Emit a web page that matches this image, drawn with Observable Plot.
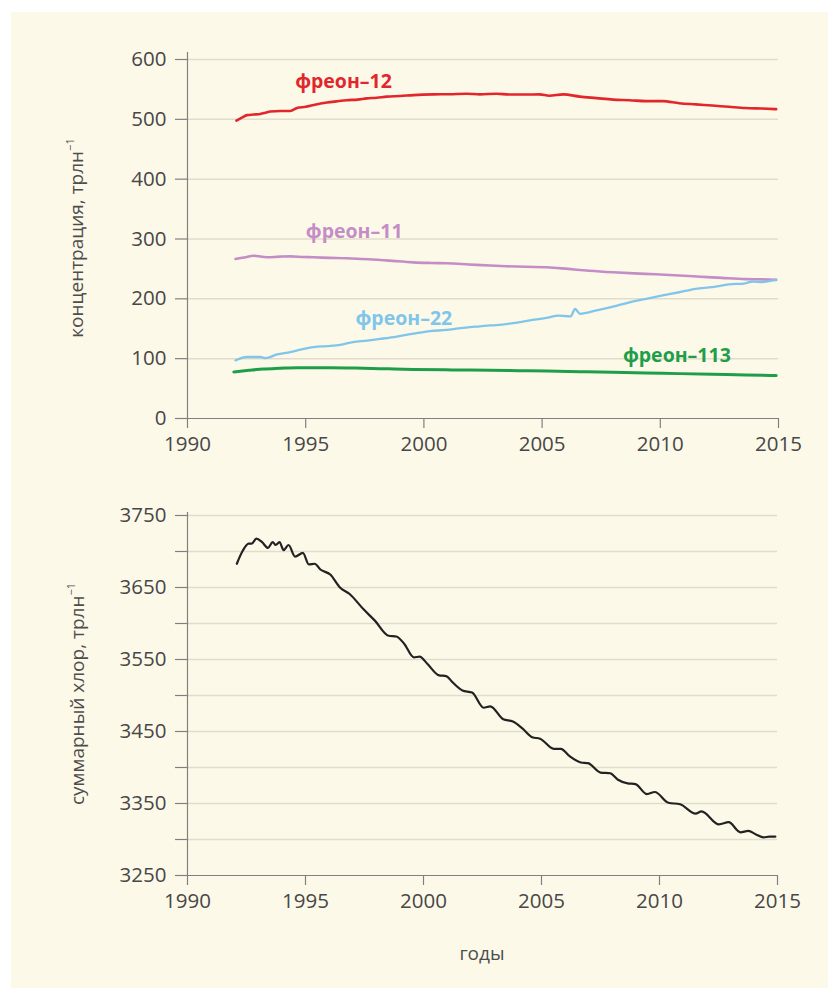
<!DOCTYPE html>
<html>
<head>
<meta charset="utf-8">
<script src="https://cdn.jsdelivr.net/npm/d3@7"></script>
<script src="https://cdn.jsdelivr.net/npm/@observablehq/plot@0.6"></script>
<style>
html,body{margin:0;padding:0;background:#fff;}
#page{position:relative;width:828px;height:988px;overflow:hidden;font-family:"Open Sans",sans-serif;}
#panel{position:absolute;left:11px;top:12px;right:0;bottom:0;background:#fdf9e9;}
#top,#bottom{position:absolute;left:0;}
#top{top:0;}
#bottom{top:460px;}
.ytitle{position:absolute;transform:translate(-50%,-50%) rotate(-90deg);white-space:nowrap;font-size:19px;color:#4d4d4d;}
.ytitle sup{font-size:11px;position:relative;top:-2px;}
.xtitle{position:absolute;transform:translate(-50%,-50%);font-size:19px;color:#4d4d4d;}
</style>
</head>
<body>
<div id="page">
  <div id="panel"></div>
  <div id="top"></div>
  <div id="bottom"></div>
  <div class="ytitle" style="left:76px;top:238px;">концентрация, трлн<sup>−1</sup></div>
  <div class="ytitle" style="left:77px;top:694px;">суммарный хлор, трлн<sup>−1</sup></div>
  <div class="xtitle" style="left:482px;top:953px;">годы</div>
</div>
<script>
// ---- data (year, value) ----
const freon12 = [[1992.07,498],[1992.3,503],[1992.52,507],[1992.8,508],[1993.08,509],[1993.3,511],[1993.5,513],[1993.93,514],[1994.35,514],[1994.63,519],[1995.0,521],[1995.34,524],[1995.9,528],[1996.3,530],[1996.74,532],[1997.2,533],[1997.59,535],[1998.0,536],[1998.43,538],[1999.0,539],[1999.56,540.5],[2000.4,541.7],[2001.1,542],[2001.8,542.8],[2002.37,541.7],[2003.07,542.8],[2003.6,541.5],[2004.3,541.5],[2004.9,541.7],[2005.3,539.5],[2005.9,541.7],[2006.6,538],[2007.3,535.5],[2008.0,533],[2008.7,532],[2009.4,530.5],[2010.1,530.5],[2010.8,527],[2011.5,525],[2012.2,523],[2012.9,521],[2013.6,519],[2014.3,518],[2014.9,517]];
const freon11 = [[1992.03,266.7],[1992.4,269],[1992.8,272],[1993.36,269.5],[1993.9,270.5],[1994.35,271],[1994.9,270],[1995.34,269.4],[1996.0,268.5],[1996.74,267.8],[1997.4,266.5],[1998.15,265],[1998.8,263],[1999.56,261],[2000.3,260],[2000.97,259.4],[2001.9,257.5],[2002.8,255.6],[2003.5,254.5],[2004.3,253.5],[2005.2,252.8],[2006.1,250],[2007.0,247],[2008.0,244.4],[2008.9,242.5],[2009.8,241],[2010.8,239],[2011.7,237],[2012.6,235],[2013.6,233],[2014.3,232.5],[2014.9,231.7]];
const freon22 = [[1992.03,97.2],[1992.52,102.8],[1993.08,102.8],[1993.3,101],[1993.79,107],[1994.35,111],[1994.77,115],[1995.34,119.4],[1995.9,121],[1996.46,123],[1997.0,127.8],[1997.6,130],[1998.15,133],[1998.85,137],[1999.56,141.7],[2000.26,146],[2000.97,148],[2001.45,150.5],[2001.95,152.8],[2002.37,154],[2002.8,155.5],[2003.07,156],[2003.78,159.4],[2004.48,163.9],[2005.18,168],[2005.7,172],[2006.2,170.6],[2006.4,183],[2006.6,175],[2007.3,180.6],[2008.0,187],[2008.7,194],[2009.4,200],[2010.1,205.6],[2010.8,211],[2011.5,216.7],[2012.2,219.4],[2012.9,224],[2013.6,226],[2013.9,229],[2014.3,228],[2014.9,232]];
const freon113 = [[1991.96,77.8],[1992.6,80.5],[1993.22,82.8],[1993.9,84],[1994.63,85],[1995.3,85],[1996.04,85],[1997.45,84],[1998.5,83],[1999.56,82],[2001.2,81.2],[2002.8,80.6],[2004.0,80],[2005.2,79.4],[2006.6,78.3],[2008.0,77.2],[2009.4,76.1],[2010.8,75],[2012.2,73.9],[2013.6,72.8],[2014.9,71.7]];
const chlorine = [[1992.09,3683],[1992.34,3701],[1992.59,3711],[1992.72,3711],[1992.92,3718],[1993.16,3713],[1993.41,3705],[1993.61,3713],[1993.74,3709],[1993.9,3713],[1994.07,3702],[1994.28,3709],[1994.56,3693],[1994.89,3698],[1995.14,3682],[1995.39,3683],[1995.63,3675],[1996.05,3668],[1996.46,3650],[1996.87,3641],[1997.45,3620],[1997.94,3604],[1998.52,3583],[1998.85,3582],[1999.18,3572],[1999.59,3553],[1999.84,3554],[2000.16,3544],[2000.66,3528],[2000.96,3527],[2001.24,3518],[2001.65,3507],[2002.06,3504],[2002.55,3483],[2002.83,3485],[2003.38,3467],[2003.79,3464],[2004.2,3454],[2004.61,3442],[2004.94,3440],[2005.52,3426],[2005.82,3426],[2006.18,3416],[2006.67,3407],[2006.97,3406],[2007.5,3393],[2007.91,3392],[2008.24,3383],[2008.65,3378],[2008.98,3377],[2009.47,3363],[2009.8,3366],[2010.38,3351],[2010.87,3349],[2011.53,3336],[2011.78,3339],[2012.52,3321],[2012.93,3324],[2013.43,3310],[2013.76,3312],[2014.09,3307],[2014.41,3303],[2014.66,3304],[2014.91,3304]];

// ---- series labels ----
const labelNames = ["фреон–12", "фреон–11", "фреон–22", "фреон–113"];
const labelYears = [1996.6, 1997.05, 1999.15, 2010.7];
const labelValues = [562, 312, 167, 105];

// ---- ticks ----
const xTicks = [1990, 1995, 2000, 2005, 2010, 2015];
const topTicks = [0, 100, 200, 300, 400, 500, 600];
const bottomTicks = [3250, 3300, 3350, 3400, 3450, 3500, 3550, 3600, 3650, 3700, 3750];
const bottomLabeled = [3250, 3350, 3450, 3550, 3650, 3750];

// ---- styles ----
const colors = {red: "#e2272c", purple: "#c48dc5", blue: "#80c5ea", green: "#1f9e4a", black: "#222222"};
const labelColors = [colors.red, colors.purple, colors.blue, colors.green];
const axisColor = "#808080";
const gridColor = "#e1ddcc";
const textColor = "#474747";
const tickFont = 20.5;

const labels = labelNames.map((name, i) => ({name, year: labelYears[i], value: labelValues[i], color: labelColors[i]}));
const X = d => d[0], Y = d => d[1];

const baseStyle = {background: "transparent", fontFamily: "'Open Sans', sans-serif", fontSize: "20px", color: textColor, overflow: "visible"};

const topPlot = Plot.plot({
  width: 828, height: 470,
  marginLeft: 187, marginRight: 50, marginTop: 59, marginBottom: 52,
  style: baseStyle,
  x: {domain: [1990, 2015]},
  y: {domain: [0, 600]},
  marks: [
    Plot.gridY(topTicks.filter(d => d > 0), {stroke: gridColor, strokeOpacity: 1, strokeWidth: 1.5}),
    Plot.axisY(topTicks, {tickSize: 12, tickPadding: 9, stroke: axisColor, strokeWidth: 1.2, label: null, fontSize: tickFont, tickFormat: d => String(d)}),
    Plot.axisX(xTicks, {tickSize: 10, tickPadding: 8, stroke: axisColor, strokeWidth: 1.2, label: null, fontSize: tickFont, tickFormat: d => String(d)}),
    Plot.ruleY([0], {stroke: axisColor, strokeWidth: 1.2}),
    Plot.ruleX([1990], {stroke: axisColor, strokeWidth: 1.2, insetTop: -7}),
    Plot.line(freon113, {x: X, y: Y, stroke: colors.green, strokeWidth: 3, curve: "monotone-x"}),
    Plot.line(freon11, {x: X, y: Y, stroke: colors.purple, strokeWidth: 2.6, curve: "monotone-x"}),
    Plot.line(freon22, {x: X, y: Y, stroke: colors.blue, strokeWidth: 2.3, curve: "monotone-x"}),
    Plot.line(freon12, {x: X, y: Y, stroke: colors.red, strokeWidth: 2.6, curve: "monotone-x"}),
    Plot.text(labels, {x: "year", y: "value", text: "name", fill: "color", fontWeight: 700, fontSize: 19.5})
  ]
});
document.getElementById("top").appendChild(topPlot);

const bottomPlot = Plot.plot({
  width: 828, height: 470,
  marginLeft: 187, marginRight: 51, marginTop: 55, marginBottom: 55,
  style: baseStyle,
  x: {domain: [1990, 2015]},
  y: {domain: [3250, 3750]},
  marks: [
    Plot.gridY(bottomTicks.filter(d => d > 3250), {stroke: gridColor, strokeOpacity: 1, strokeWidth: 1.5}),
    Plot.axisY(bottomTicks, {tickSize: 12, tickPadding: 9, stroke: axisColor, strokeWidth: 1.2, label: null, fontSize: tickFont, tickFormat: d => bottomLabeled.includes(d) ? String(d) : ""}),
    Plot.axisX(xTicks, {tickSize: 10, tickPadding: 8, stroke: axisColor, strokeWidth: 1.2, label: null, fontSize: tickFont, tickFormat: d => String(d)}),
    Plot.ruleY([3250], {stroke: axisColor, strokeWidth: 1.2}),
    Plot.ruleX([1990], {stroke: axisColor, strokeWidth: 1.2, insetTop: -3}),
    Plot.line(chlorine, {x: X, y: Y, stroke: colors.black, strokeWidth: 2.2, curve: "monotone-x"})
  ]
});
document.getElementById("bottom").appendChild(bottomPlot);
</script>
</body>
</html>
